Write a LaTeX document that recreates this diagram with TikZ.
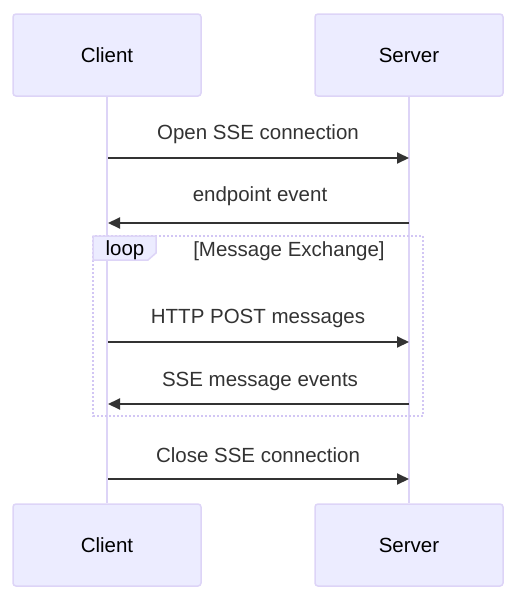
\documentclass[tikz,border=0pt]{standalone}
\usepackage{fontspec}
\setmainfont{Liberation Sans}
\usetikzlibrary{arrows.meta}
\definecolor{actfill}{HTML}{ECECFF}
\definecolor{actline}{HTML}{DDD4F7}
\definecolor{loopline}{HTML}{D2C6F4}
\definecolor{msg}{HTML}{333333}
\tikzset{
  actor/.style={draw=actline, fill=actfill, line width=1.5pt, rounded corners=3pt,
    minimum width=188pt, minimum height=82pt, inner sep=0pt,
    font=\fontsize{20.5}{24}\selectfont, text=black},
  life/.style={draw=actline, line width=1.6pt},
  msgarrow/.style={draw=msg, line width=2pt, -{Triangle[length=12pt,width=11pt]}},
  msglabel/.style={font=\fontsize{20.5}{24}\selectfont, text=msg, inner sep=0pt},
  loopframe/.style={draw=loopline, line width=2pt, dash pattern=on 2pt off 2pt},
}
\begin{document}
\begin{tikzpicture}[x=1pt,y=-1pt]
\useasboundingbox (0,0) rectangle (519,603);
% actors
\node[actor] (ct) at (107,55) {Client};
\node[actor] (st) at (409,55) {Server};
\node[actor] (cb) at (107,545) {Client};
\node[actor] (sb) at (409,545) {Server};
% lifelines
\draw[life] (ct.south) -- (cb.north);
\draw[life] (st.south) -- (sb.north);
% message endpoints
\coordinate (c1) at (108,158); \coordinate (s1) at (409,158);
\coordinate (c2) at (108,223); \coordinate (s2) at (409,223);
\coordinate (c3) at (108,342); \coordinate (s3) at (409,342);
\coordinate (c4) at (108,404); \coordinate (s4) at (409,404);
\coordinate (c5) at (108,479); \coordinate (s5) at (409,479);
% loop frame
\draw[loopframe] (93,236) rectangle (423,416);
\draw[draw=actline, fill=actfill, line width=1.5pt] (93,236) -- (156,236) -- (156,253) -- (148,260) -- (93,260) -- cycle;
\node[msglabel, text=black] (looplbl) at (125,250.5) {loop};
\node[msglabel] (loopcond) at (289,251.5) {[Message Exchange]};
% messages
\draw[msgarrow] (c1) -- (s1);
\node[msglabel] (m1) at (258,134.5) {Open SSE connection};
\draw[msgarrow] (s2) -- (c2);
\node[msglabel] (m2) at (260,196.5) {endpoint event};
\draw[msgarrow] (c3) -- (s3);
\node[msglabel] (m3) at (258,318.5) {HTTP POST messages};
\draw[msgarrow] (s4) -- (c4);
\node[msglabel] (m4) at (260,381.5) {SSE message events};
\draw[msgarrow] (c5) -- (s5);
\node[msglabel] (m5) at (258,455.5) {Close SSE connection};
\end{tikzpicture}
\end{document}
